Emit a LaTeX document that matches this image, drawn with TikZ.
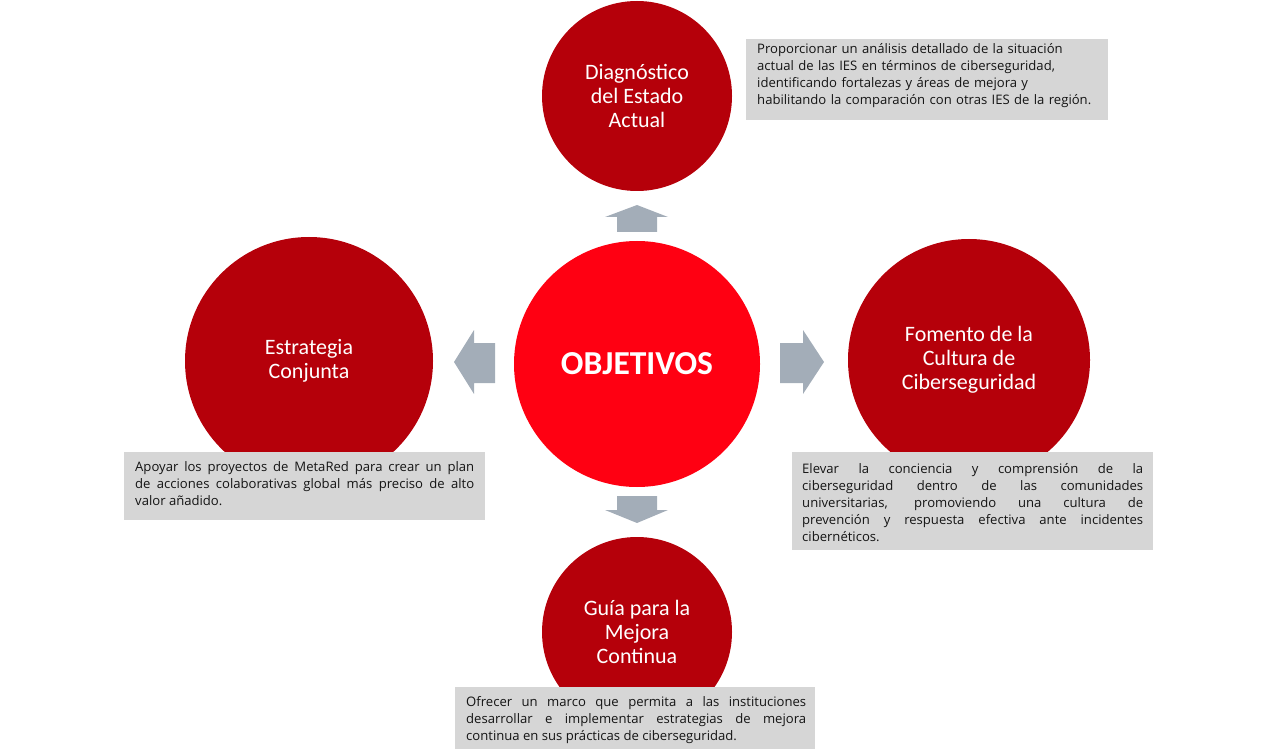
\documentclass[tikz,border=0pt]{standalone}
\usepackage{fontspec}
\setmainfont{Carlito}
\newfontfamily\descfont{Open Sans}
\usepackage{tikz}

\definecolor{objred}{HTML}{FF0012}
\definecolor{goalred}{HTML}{B5000A}
\definecolor{arrowgray}{HTML}{A3ADB8}
\definecolor{boxgray}{HTML}{D6D6D6}
\definecolor{desctextcol}{HTML}{141414}

\tolerance=10000
\hyphenpenalty=10000

\begin{document}
\begin{tikzpicture}[x=1pt,y=-1pt,
  goal/.style={circle,fill=goalred,text=white,align=center,inner sep=0pt,
    font=\fontsize{22}{24}\selectfont},
  descbox/.style={fill=boxgray,anchor=north west,inner sep=0pt},
  desctext/.style={anchor=north west,inner sep=0pt,text=desctextcol,
    font=\descfont\fontsize{13.1}{17}\selectfont}]

\useasboundingbox (0,0) rectangle (1280,754);

% Circles

\node[goal,minimum size=190pt] (diag) at (637,96) {Diagnóstico\\del Estado\\Actual};
\node[goal,minimum size=248pt] (estr) at (309,361) {Estrategia\\Conjunta};
\node[goal,minimum size=242pt] (fom) at (969,360) {Fomento de la\\Cultura de\\Ciberseguridad};
\node[goal,minimum size=190pt] (guia) at (637,632) {Guía para la\\Mejora\\Continua};

\node[circle,fill=objred,text=white,minimum size=246pt,inner sep=0pt,
  font=\bfseries\fontsize{33.5}{40}\selectfont] (obj) at (637,364) {OBJETIVOS};

% Block arrows

\fill[arrowgray] (617,232) -- ++(0,-15) -- ++(-12,0) -- ++(32,-12) -- ++(31,12) -- ++(-11,0) -- ++(0,15) -- cycle;
\fill[arrowgray] (495,343) -- ++(-21,0) -- ++(0,-13) -- ++(-20,32) -- ++(20,32) -- ++(0,-11) -- ++(21,0) -- cycle;
\fill[arrowgray] (780,343) -- ++(23,0) -- ++(0,-13) -- ++(21,32) -- ++(-21,32) -- ++(0,-11) -- ++(-23,0) -- cycle;
\fill[arrowgray] (617,496) -- ++(40,0) -- ++(0,14) -- ++(11,0) -- ++(-31,13) -- ++(-32,-13) -- ++(12,0) -- cycle;

% Description boxes

\node[descbox,minimum width=362pt,minimum height=81pt] (diagbox) at (746,39) {};
\node[desctext,text width=348pt,align=left] (diagtxt) at ([xshift=11pt,yshift=-4pt]diagbox.north west)
  {Proporcionar un análisis detallado de la situación\\
   actual de las IES en términos de ciberseguridad,\\
   identificando fortalezas y áreas de mejora y\\
   habilitando la comparación con otras IES de la región.};

\node[descbox,minimum width=361pt,minimum height=68pt] (estrbox) at (124,452) {};
\node[desctext,text width=339pt,align=justify] (estrtxt) at ([xshift=11pt,yshift=-9pt]estrbox.north west)
  {Apoyar los proyectos de MetaRed para crear un plan\linebreak
   de acciones colaborativas global más preciso de alto\linebreak
   valor añadido.};

\node[descbox,minimum width=361pt,minimum height=98pt] (fombox) at (792,452) {};
\node[desctext,text width=341pt,align=justify] (fomtxt) at ([xshift=10pt,yshift=-11pt]fombox.north west)
  {Elevar la conciencia y comprensión de la\linebreak
   ciberseguridad dentro de las comunidades\linebreak
   universitarias, promoviendo una cultura de\linebreak
   prevención y respuesta efectiva ante incidentes\linebreak
   cibernéticos.};

\node[descbox,minimum width=360pt,minimum height=62pt] (guiabox) at (455,687) {};
\node[desctext,text width=340pt,align=justify] (guiatxt) at ([xshift=11pt,yshift=-9pt]guiabox.north west)
  {Ofrecer un marco que permita a las instituciones\linebreak
   desarrollar e implementar estrategias de mejora\linebreak
   continua en sus prácticas de ciberseguridad.};

\end{tikzpicture}
\end{document}
